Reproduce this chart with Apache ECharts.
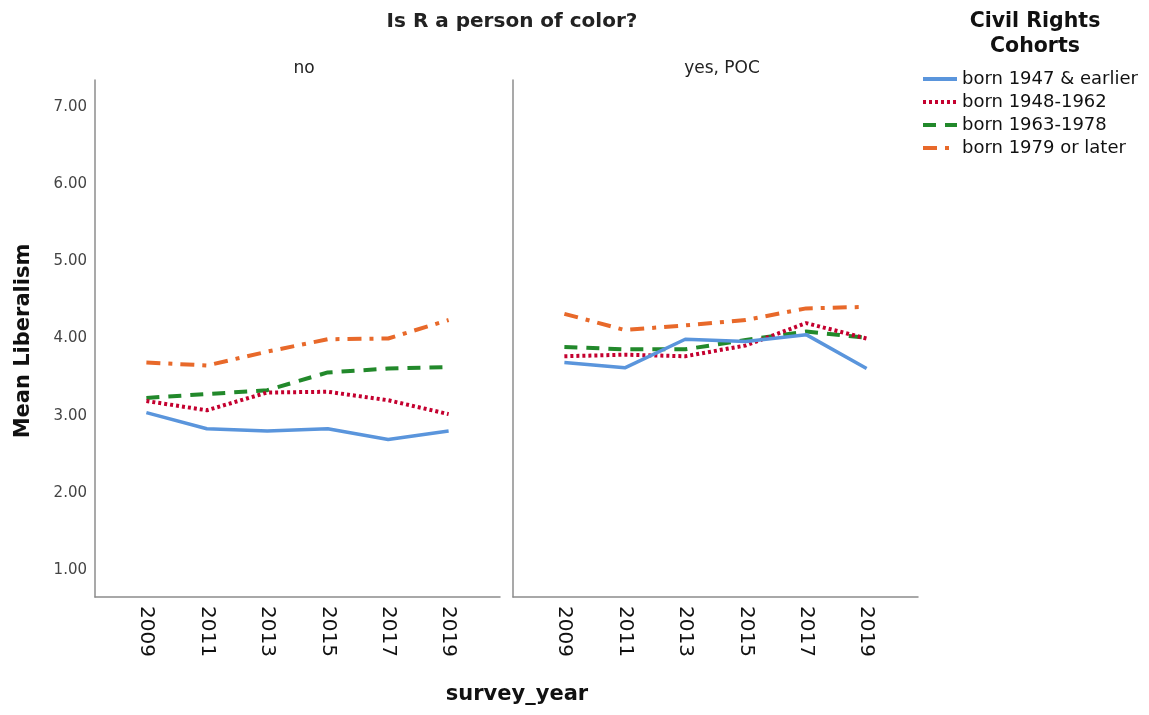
<!DOCTYPE html>
<html>
<head>
<meta charset="utf-8">
<script src="https://cdn.jsdelivr.net/npm/echarts@6/dist/echarts.min.js"></script>
<style>
  html, body { margin: 0; padding: 0; background: #fff; }
  #chart { width: 1149px; height: 715px; }
</style>
</head>
<body>
<div id="chart"></div>
<script>
// Survey years shown on both panels
const years = [2009, 2011, 2013, 2015, 2017, 2019];
const yTicks = [1, 2, 3, 4, 5, 6, 7];
const cohorts = ['born 1947 & earlier', 'born 1948-1962', 'born 1963-1978', 'born 1979 or later'];
const panels = ['no', 'yes, POC'];

// Mean liberalism by cohort, respondents who are not people of color
const noPoc1947 = [3.04, 2.83, 2.80, 2.83, 2.69, 2.80];
const noPoc1948 = [3.19, 3.07, 3.30, 3.31, 3.20, 3.02];
const noPoc1963 = [3.23, 3.28, 3.33, 3.56, 3.61, 3.63];
const noPoc1979 = [3.69, 3.65, 3.83, 3.99, 4.00, 4.24];

// Mean liberalism by cohort, respondents who are people of color
const poc1947 = [3.69, 3.62, 3.99, 3.96, 4.05, 3.61];
const poc1948 = [3.77, 3.79, 3.77, 3.91, 4.20, 4.00];
const poc1963 = [3.89, 3.86, 3.86, 3.98, 4.09, 4.01];
const poc1979 = [4.32, 4.11, 4.17, 4.24, 4.39, 4.41];

const panelData = [
  [noPoc1947, noPoc1948, noPoc1963, noPoc1979],
  [poc1947, poc1948, poc1963, poc1979]
];

const font = '"DejaVu Sans", sans-serif';
const styles = [
  { color: '#5a95dc', type: 'solid', width: 3.5 },
  { color: '#c4002f', type: [3, 3], width: 4 },
  { color: '#22892b', type: [13, 9], width: 4 },
  { color: '#e8692a', type: [14, 8, 4, 8], width: 4 }
];

const grids = [
  { left: 95, top: 80, width: 405, height: 517 },
  { left: 513, top: 80, width: 405, height: 517 }
];

const axisLine = { show: true, lineStyle: { color: '#8c8c8c', width: 1.5 } };

const xAxes = panels.map((p, i) => ({
  type: 'value', gridIndex: i, min: 2007.3, max: 2020.7,
  axisLine: axisLine, axisTick: { show: false }, splitLine: { show: false },
  axisLabel: {
    customValues: years, rotate: -90, margin: 9,
    fontFamily: font, fontSize: 20, color: '#111',
    formatter: v => String(v)
  }
}));

const yAxes = panels.map((p, i) => ({
  type: 'value', gridIndex: i, min: 0.65, max: 7.35,
  axisLine: axisLine, axisTick: { show: false }, splitLine: { show: false },
  axisLabel: {
    show: i === 0, customValues: yTicks, margin: 8,
    fontFamily: font, fontSize: 15, color: '#444',
    formatter: v => v.toFixed(2)
  }
}));

const series = [];
panels.forEach((p, pi) => {
  cohorts.forEach((c, ci) => {
    series.push({
      name: c, type: 'line', xAxisIndex: pi, yAxisIndex: pi,
      symbol: 'none', smooth: false,
      data: years.map((y, k) => [y, panelData[pi][ci][k]]),
      lineStyle: styles[ci], itemStyle: { color: styles[ci].color },
      z: 10 - ci
    });
  });
});

const chart = echarts.init(document.getElementById('chart'), null, { renderer: 'canvas' });
chart.setOption({
  backgroundColor: '#fff',
  animation: false,
  grid: grids,
  xAxis: xAxes,
  yAxis: yAxes,
  series: series,
  title: [
    { text: 'Is R a person of color?', left: 507, top: 7, textAlign: 'center',
      textStyle: { fontFamily: font, fontSize: 20, fontWeight: 'bold', color: '#222' } },
    { text: 'no', left: 299, top: 55, textAlign: 'center',
      textStyle: { fontFamily: font, fontSize: 17, fontWeight: 'normal', color: '#222' } },
    { text: 'yes, POC', left: 717, top: 55, textAlign: 'center',
      textStyle: { fontFamily: font, fontSize: 17, fontWeight: 'normal', color: '#222' } },
    { text: 'Civil Rights\nCohorts', left: 1030, top: 4, textAlign: 'center',
      textStyle: { fontFamily: font, fontSize: 20.5, fontWeight: 'bold', color: '#111', lineHeight: 25, align: 'center' } },
    { text: 'survey_year', left: 512, top: 679, textAlign: 'center',
      textStyle: { fontFamily: font, fontSize: 21, fontWeight: 'bold', color: '#111' } }
  ],
  graphic: [
    { type: 'text', x: 24, y: 341, rotation: Math.PI / 2,
      style: { text: 'Mean Liberalism', font: 'bold 21px "DejaVu Sans", sans-serif', fill: '#111',
        align: 'center', verticalAlign: 'middle' } }
  ],
  legend: {
    data: cohorts, orient: 'vertical', left: 916, top: 65,
    itemWidth: 34, itemHeight: 14, itemGap: 5,
    itemStyle: { opacity: 0 },
    lineStyle: { width: 4 },
    textStyle: { fontFamily: font, fontSize: 18, color: '#111' },
    selectedMode: false
  }
});
</script>
</body>
</html>
